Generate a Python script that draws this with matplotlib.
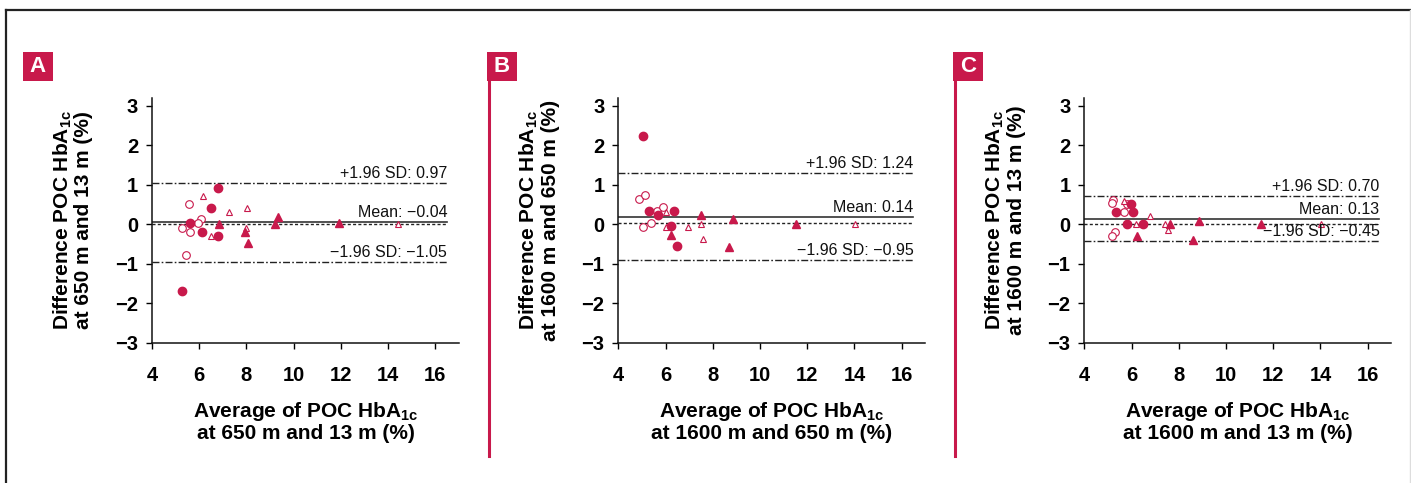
import matplotlib.pyplot as plt
from matplotlib.patches import Rectangle
from matplotlib.lines import Line2D

plt.rcParams['font.family'] = ['Liberation Sans', 'DejaVu Sans']
plt.rcParams['mathtext.fontset'] = 'custom'
plt.rcParams['mathtext.rm'] = 'Liberation Sans'
plt.rcParams['mathtext.bf'] = 'Liberation Sans:bold'

crimson = '#C8194B'

# Panel A: 650 m vs 13 m
a_fc_x = [6.78, 6.51, 5.63, 6.13, 6.78, 5.28]
a_fc_y = [0.91, 0.41, 0.03, -0.18, -0.28, -1.68]
a_oc_x = [5.58, 6.07, 5.93, 5.28, 5.63, 5.42]
a_oc_y = [0.52, 0.13, 0.03, -0.09, -0.18, -0.78]
a_ft_x = [6.83, 9.32, 9.22, 11.91, 7.92, 8.08]
a_ft_y = [0.02, 0.20, 0.02, 0.03, -0.18, -0.48]
a_ot_x = [6.17, 7.28, 8.04, 7.97, 6.48, 14.43]
a_ot_y = [0.71, 0.31, 0.41, -0.09, -0.30, 0.02]

# Panel B: 1600 m vs 650 m
b_fc_x = [5.06, 5.31, 6.35, 5.68, 6.22, 6.50]
b_fc_y = [2.25, 0.35, 0.35, 0.24, -0.05, -0.55]
b_oc_x = [4.88, 5.14, 5.64, 5.88, 5.03, 5.40]
b_oc_y = [0.65, 0.75, 0.35, 0.44, -0.07, 0.04]
b_ft_x = [7.49, 8.85, 11.52, 6.23, 8.69]
b_ft_y = [0.24, 0.13, 0.02, -0.27, -0.56]
b_ot_x = [6.03, 6.03, 6.95, 7.49, 7.59, 14.02]
b_ot_y = [0.32, -0.07, -0.07, 0.02, -0.36, 0.02]

# Panel C: 1600 m vs 13 m
c_fc_x = [5.97, 5.34, 6.05, 5.81, 6.50]
c_fc_y = [0.52, 0.31, 0.31, 0.01, 0.01]
c_oc_x = [5.20, 5.16, 5.67, 5.30, 5.16, 5.80]
c_oc_y = [0.61, 0.55, 0.31, -0.19, -0.28, 0.51]
c_ft_x = [8.85, 7.62, 11.50, 6.25, 8.62]
c_ft_y = [0.10, 0.01, 0.01, -0.30, -0.39]
c_ot_x = [5.67, 6.78, 6.20, 7.41, 7.55, 14.02]
c_ot_y = [0.59, 0.21, 0.01, 0.01, -0.13, 0.01]

# reference lines as drawn: upper, mean, zero, lower
a_lines = [1.05, 0.06, 0.0, -0.95]
b_lines = [1.29, 0.18, 0.04, -0.91]
c_lines = [0.71, 0.14, 0.02, -0.43]
a_texts = ['+1.96 SD: 0.97', 'Mean: \u22120.04', '\u22121.96 SD: \u22121.05']
b_texts = ['+1.96 SD: 1.24', 'Mean: 0.14', '\u22121.96 SD: \u22120.95']
c_texts = ['+1.96 SD: 0.70', 'Mean: 0.13', '\u22121.96 SD: \u22120.45']

xticks = [4, 6, 8, 10, 12, 14, 16]
yticks = [-3, -2, -1, 0, 1, 2, 3]

sub = r'$_{\mathbf{1c}}$'
panels = [
    ('A', 152, a_fc_x, a_fc_y, a_oc_x, a_oc_y, a_ft_x, a_ft_y, a_ot_x, a_ot_y, a_lines, a_texts,
     'Difference POC HbA' + sub + '\nat 650 m and 13 m (%)',
     'Average of POC HbA' + sub + '\nat 650 m and 13 m (%)'),
    ('B', 618.3, b_fc_x, b_fc_y, b_oc_x, b_oc_y, b_ft_x, b_ft_y, b_ot_x, b_ot_y, b_lines, b_texts,
     'Difference POC HbA' + sub + '\nat 1600 m and 650 m (%)',
     'Average of POC HbA' + sub + '\nat 1600 m and 650 m (%)'),
    ('C', 1084.3, c_fc_x, c_fc_y, c_oc_x, c_oc_y, c_ft_x, c_ft_y, c_ot_x, c_ot_y, c_lines, c_texts,
     'Difference POC HbA' + sub + '\nat 1600 m and 13 m (%)',
     'Average of POC HbA' + sub + '\nat 1600 m and 13 m (%)'),
]

W, H = 1411, 483
fig = plt.figure(figsize=(W / 100, H / 100), dpi=100)

# outer frame
fig.add_artist(Line2D([6 / W, 1], [1 - 10 / H, 1 - 10 / H], color='#222222', lw=1.6))
fig.add_artist(Line2D([6 / W, 6 / W], [0, 1 - 10 / H], color='#222222', lw=1.6))
fig.add_artist(Line2D([1409.5 / W, 1409.5 / W], [0, 1 - 10 / H], color='#dddddd', lw=1.0))

box_left = {'A': 23, 'B': 487, 'C': 953}

for (letter, left, fcx, fcy, ocx, ocy, ftx, fty, otx, oty, lines, texts, ylab, xlab) in panels:
    ax = fig.add_axes([left / W, (H - 343) / H, 307 / W, 245 / H])
    ax.set_xlim(4, 17)
    ax.set_ylim(-3, 3.2)
    for s in ['top', 'right']:
        ax.spines[s].set_visible(False)
    for s in ['left', 'bottom']:
        ax.spines[s].set_linewidth(1.1)
        ax.spines[s].set_color('#111111')

    up, mean, zero, low = lines
    ax.plot([4, 16.5], [up, up], color='#222222', lw=1.0, ls=(0, (5, 1.6, 1.2, 1.6)))
    ax.plot([4, 16.5], [low, low], color='#222222', lw=1.0, ls=(0, (5, 1.6, 1.2, 1.6)))
    ax.plot([4, 16.5], [zero, zero], color='#222222', lw=1.0, ls=(0, (2.2, 1.6)))
    ax.plot([4, 16.5], [mean, mean], color='#333333', lw=1.2)
    for yv, t in zip([up, mean, low], texts):
        ax.annotate(t, (16.5, yv), xytext=(0, 1.5), textcoords='offset points',
                    ha='right', va='bottom', fontsize=11.5, color='#111111')

    ax.plot(ocx, ocy, 'o', ms=5.5, mfc='white', mec=crimson, mew=0.8, ls='none')
    ax.plot(otx, oty, '^', ms=5, mfc='white', mec=crimson, mew=0.8, ls='none')
    ax.plot(fcx, fcy, 'o', ms=6, color=crimson, ls='none')
    ax.plot(ftx, fty, '^', ms=5.5, color=crimson, ls='none')

    ax.set_xticks(xticks)
    ax.set_yticks(yticks)
    ax.tick_params(axis='x', labelsize=14.5, length=4.5, width=1.0, pad=12)
    ax.tick_params(axis='y', labelsize=14.5, length=4, width=1.0, pad=6)
    for lab in ax.get_xticklabels() + ax.get_yticklabels():
        lab.set_fontweight('bold')

    ax.text(-0.26, 0.5, ylab, transform=ax.transAxes, rotation=90, ha='center',
            va='center', fontsize=15, fontweight='bold', linespacing=1.05,
            multialignment='center')
    ax.text(0.5, -0.32, xlab, transform=ax.transAxes, ha='center', va='center',
            fontsize=15, fontweight='bold', linespacing=1.05, multialignment='center')

    # panel letter box
    bx = box_left[letter]
    fig.add_artist(Rectangle((bx / W, 1 - 81 / H), 30 / W, 29 / H, transform=fig.transFigure,
                             facecolor=crimson, edgecolor='none'))
    fig.text((bx + 15) / W, 1 - 66.5 / H, letter, ha='center', va='center', color='white',
             fontsize=16, fontweight='bold')
    if letter != 'A':
        fig.add_artist(Line2D([(bx + 1.5) / W] * 2, [1 - 81 / H, 1 - 456 / H], color=crimson, lw=2.2))

fig.savefig('out.png', dpi=100)
